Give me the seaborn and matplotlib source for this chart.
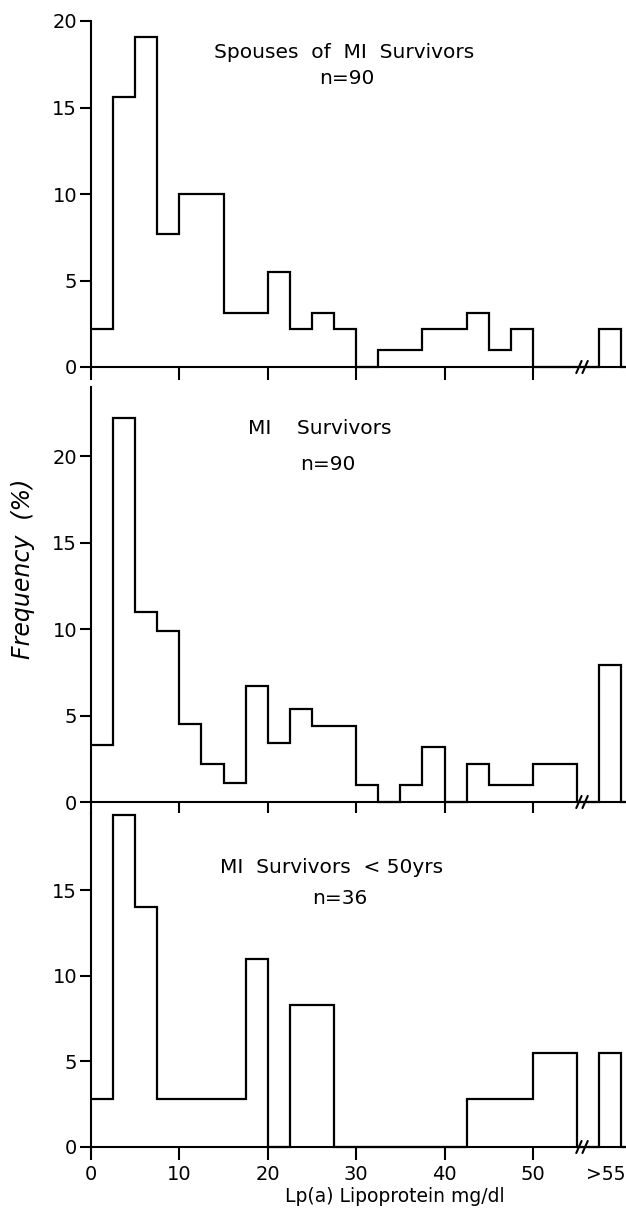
import numpy as np
import pandas as pd
import matplotlib
matplotlib.use("Agg")
import matplotlib.pyplot as plt
import seaborn as sns

# ---- data (percent of subjects per 2.5 mg/dl bin) ----
bin_lefts = [0, 2.5, 5, 7.5, 10, 12.5, 15, 17.5, 20, 22.5, 25, 27.5,
             30, 32.5, 35, 37.5, 40, 42.5, 45, 47.5, 50, 52.5]
bin_width = 2.5

spouses_pct = [2.2, 15.6, 19.1, 7.7, 10.0, 10.0, 3.1, 3.1, 5.5, 2.2, 3.1, 2.2,
               0.0, 1.0, 1.0, 2.2, 2.2, 3.1, 1.0, 2.2, 0.0, 0.0]
spouses_over55 = 2.2

mi_pct = [3.3, 22.2, 11.0, 9.9, 4.5, 2.2, 1.1, 6.7, 3.4, 5.4, 4.4, 4.4,
          1.0, 0.0, 1.0, 3.2, 0.0, 2.2, 1.0, 1.0, 2.2, 2.2]
mi_over55 = 7.9

mi50_pct = [2.8, 19.4, 14.0, 2.8, 2.8, 2.8, 2.8, 11.0, 0.0, 8.3, 8.3, 0.0,
            0.0, 0.0, 0.0, 0.0, 0.0, 2.8, 2.8, 2.8, 5.5, 5.5]
mi50_over55 = 5.5

panel_titles = ["Spouses  of  MI  Survivors", "MI    Survivors", "MI  Survivors  < 50yrs"]
panel_n = ["n=90", "n=90", "n=36"]
x_tick_values = [0, 10, 20, 30, 40, 50]
x_tick_labels = ["0", "10", "20", "30", "40", "50"]
over55_label = ">55"
y_label = "Frequency  (%)"
x_label = "Lp(a) Lipoprotein mg/dl"

# ---- styling ----
sns.set_theme(style="ticks")
plt.rcParams["font.family"] = ["DejaVu Sans"]
plt.rcParams["axes.linewidth"] = 1.5

W, H = 626, 1208
fig = plt.figure(figsize=(W / 100, H / 100), dpi=100)

x_max = 60.3
left_px, right_px = 91, 624
# (top_px, bottom_px, ymax, yticks, title pos, n pos)
panels = [
    (21, 367, 20.0, [0, 5, 10, 15, 20], (28.6, 18.2), (28.9, 16.7)),
    (387, 802, 24.0, [0, 5, 10, 15, 20], (25.9, 21.6), (26.8, 19.5)),
    (813, 1147, 19.5, [0, 5, 10, 15], (27.2, 16.3), (28.1, 14.5)),
]
series = [
    (spouses_pct, spouses_over55),
    (mi_pct, mi_over55),
    (mi50_pct, mi50_over55),
]

# bins: 22 regular bins, a gap bin (axis break), the >55 bin, and a padding bin
edges = [float(e) for e in np.arange(0, 62.5 + 0.01, bin_width)]
centers = [b + bin_width / 2 for b in bin_lefts]
over55_center = 57.5 + bin_width / 2

for i, ((top, bot, ymax, yticks, tpos, npos), (vals, over)) in enumerate(zip(panels, series)):
    ax = fig.add_axes([left_px / W, 1 - bot / H, (right_px - left_px) / W, (bot - top) / H])
    df = pd.DataFrame({
        "lpa": centers + [55 + bin_width / 2, over55_center, 60 + bin_width / 2],
        "pct": list(vals) + [0.0, over, 0.0],
    })
    sns.histplot(data=df, x="lpa", weights="pct", bins=edges, element="step", fill=False,
                 color="black", linewidth=1.6, ax=ax, stat="count")
    for ln in ax.lines:
        ln.set_clip_on(False)
        ln.set_solid_joinstyle("miter")
    ax.set_xlim(0, x_max)
    ax.set_ylim(0, ymax)
    ax.set_yticks(yticks)
    ax.set_yticklabels([str(t) for t in yticks])
    ax.set_xticks(x_tick_values)
    if i == 2:
        ax.set_xticklabels(x_tick_labels)
        ax.set_xticks([58.2], minor=True)
        ax.set_xticklabels([over55_label], minor=True)
    else:
        ax.set_xticklabels([])
    ax.tick_params(axis="both", which="major", direction="out", width=1.5, color="black",
                   labelsize=14, labelcolor="black")
    ax.tick_params(axis="y", length=8, pad=2)
    ax.tick_params(axis="x", length=9, pad=4)
    ax.tick_params(axis="x", which="minor", length=0, pad=13, labelsize=13.5, labelcolor="black")
    ax.set_xlabel("")
    ax.set_ylabel("")
    ax.set_facecolor("white")
    sns.despine(ax=ax)
    for s in ("left", "bottom"):
        ax.spines[s].set_color("black")
        ax.spines[s].set_linewidth(1.5)
    # axis break marks
    for bx in (55.2, 55.9):
        ax.plot([bx - 0.3, bx + 0.3], [-0.35, 0.35], color="black", lw=1.5, clip_on=False)
    ax.text(tpos[0], tpos[1], panel_titles[i], ha="center", va="center", fontsize=14.5, color="black")
    ax.text(npos[0], npos[1], panel_n[i], ha="center", va="center", fontsize=14.5, color="black")

fig.text(23 / W, 1 - 569 / H, y_label, rotation=90, ha="center", va="center",
         fontsize=17, style="italic", color="black")
fig.text(395 / W, 1 - 1197 / H, x_label, ha="center", va="center", fontsize=13.5, color="black")

fig.savefig("out.png", dpi=100, facecolor="white")
